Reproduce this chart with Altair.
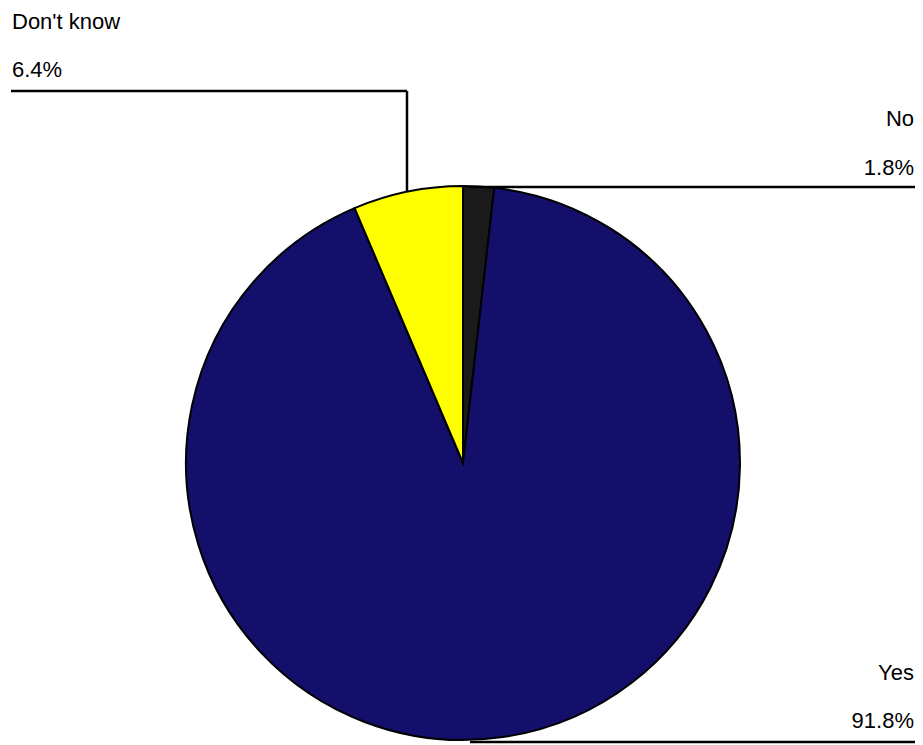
import altair as alt
import pandas as pd

# data
categories = ["No", "Yes", "Don't know"]
percent = [1.8, 91.8, 6.4]
slice_colors = ["#1a1a1a", "#130f6a", "#ffff00"]

# layout (pixel positions in chart space; page = chart + 8)
W, H = 907, 737
CX, CY, R = 455, 455, 277
label_layout = {
    "Don't know": dict(x=4, y_name=21, y_pct=69, align="left"),
    "No": dict(x=906, y_name=118, y_pct=167, align="right"),
    "Yes": dict(x=906, y_name=672, y_pct=720, align="right"),
}
leader_segments = [
    # x, x2, y, y2
    (3, 399, 83, 83),
    (399, 399, 83, 184),
    (462, 907, 179, 179),
    (462, 907, 734, 734),
]

df = pd.DataFrame({
    "cat": categories,
    "value": percent,
    "ord": list(range(len(categories))),
})

pie = alt.Chart(df).mark_arc(radius=R, stroke="black", strokeWidth=2).encode(
    theta=alt.Theta("value:Q", stack=True),
    color=alt.Color("cat:N", scale=alt.Scale(domain=categories, range=slice_colors), legend=None),
    order=alt.Order("ord:Q"),
    x=alt.value(CX),
    y=alt.value(CY),
)

rows = []
for c, v in zip(categories, percent):
    L = label_layout[c]
    rows.append(dict(txt=c, px=L["x"], py=L["y_name"], align=L["align"]))
    rows.append(dict(txt=f"{v:.1f}%", px=L["x"], py=L["y_pct"], align=L["align"]))
tdf = pd.DataFrame(rows)

font = "Liberation Sans"
fs = 22
left_text = alt.Chart(tdf).transform_filter(alt.datum.align == "left").mark_text(
    align="left", baseline="alphabetic", font=font, fontSize=fs, color="black"
).encode(
    x=alt.X("px:Q", scale=None, axis=None),
    y=alt.Y("py:Q", scale=None, axis=None),
    text="txt:N",
)
right_text = alt.Chart(tdf).transform_filter(alt.datum.align == "right").mark_text(
    align="right", baseline="alphabetic", font=font, fontSize=fs, color="black"
).encode(
    x=alt.X("px:Q", scale=None, axis=None),
    y=alt.Y("py:Q", scale=None, axis=None),
    text="txt:N",
)

sdf = pd.DataFrame(leader_segments, columns=["x1", "x2", "y1", "y2"])
lines = alt.Chart(sdf).mark_rule(color="black", strokeWidth=2.5).encode(
    x=alt.X("x1:Q", scale=None, axis=None),
    x2="x2:Q",
    y=alt.Y("y1:Q", scale=None, axis=None),
    y2="y2:Q",
)

chart = alt.layer(pie, lines, left_text, right_text).properties(
    width=W, height=H, padding=0,
    autosize=alt.AutoSizeParams(type="none"),
).configure(background="white").configure_view(strokeWidth=0, stroke="transparent")

chart.save("out.html", embed_options={"renderer": "svg", "actions": False})
